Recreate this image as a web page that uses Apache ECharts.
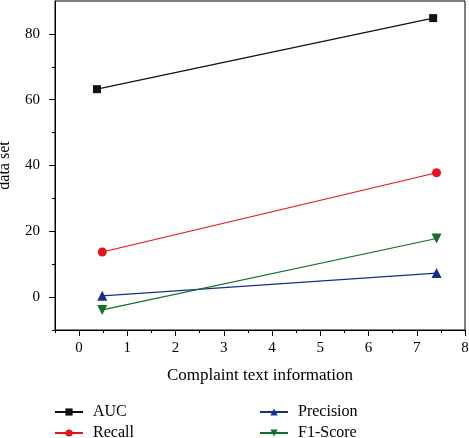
<!DOCTYPE html>
<html><head><meta charset="utf-8">
<script src="https://cdn.jsdelivr.net/npm/echarts@6/dist/echarts.min.js"></script>
<style>html,body{margin:0;padding:0;background:#fff}#c{width:469px;height:438px}</style>
</head><body><div id="c"></div>
<script>
const seriesNames = ['AUC', 'Recall', 'Precision', 'F1-Score'];
const aucData = [[0.37, 63.2], [7.34, 84.8]];
const recallData = [[0.48, 13.7], [7.41, 37.8]];
const precisionData = [[0.48, 0.4], [7.41, 7.3]];
const f1Data = [[0.48, -3.9], [7.41, 17.8]];
const xTickLabels = [0, 1, 2, 3, 4, 5, 6, 7, 8];
const xMinorTicks = [-0.5, 0.5, 1.5, 2.5, 3.5, 4.5, 5.5, 6.5, 7.5];
const yTickLabels = [0, 20, 40, 60, 80];
const yMinorTicks = [-10, 10, 30, 50, 70];

const FONT = '"Liberation Serif", "DejaVu Serif", serif';
const chart = echarts.init(document.getElementById('c'), null, {renderer: 'canvas'});
const common = {type: 'line', symbolSize: 9, lineStyle: {width: 1.2}};
const legendText = {fontFamily: FONT, fontSize: 16, color: '#000', padding: [0, 0, 0, 5]};
chart.setOption({
  animation: false,
  textStyle: {fontFamily: FONT},
  grid: {left: 55, right: 4, top: 1, bottom: 108, show: true, borderColor: '#000', borderWidth: 1,
    containLabel: false, outerBoundsMode: 'none'},
  xAxis: [{
    type: 'value', min: -0.5, max: 8, position: 'bottom',
    name: 'Complaint text information', nameLocation: 'middle', nameGap: 37,
    nameTextStyle: {fontFamily: FONT, fontSize: 17, color: '#000'},
    axisLine: {show: true, onZero: false, lineStyle: {color: '#000'}},
    axisTick: {show: true, customValues: xTickLabels, length: 6, lineStyle: {color: '#000'}},
    axisLabel: {customValues: xTickLabels, fontFamily: FONT, fontSize: 15, color: '#000', margin: 11},
    splitLine: {show: false}
  }, {
    type: 'value', min: -0.5, max: 8, position: 'bottom', gridIndex: 0,
    axisLine: {show: false, onZero: false},
    axisTick: {show: true, customValues: xMinorTicks, length: 3, lineStyle: {color: '#000'}},
    axisLabel: {show: false}, splitLine: {show: false}
  }],
  yAxis: [{
    type: 'value', min: -10, max: 90, position: 'left',
    name: 'data set', nameLocation: 'middle', nameGap: 42, nameRotate: 90, nameMoveOverlap: false,
    nameTextStyle: {fontFamily: FONT, fontSize: 16, color: '#000'},
    axisLine: {show: true, onZero: false, lineStyle: {color: '#000'}},
    axisTick: {show: true, customValues: yTickLabels, length: 6, lineStyle: {color: '#000'}},
    axisLabel: {customValues: yTickLabels, fontFamily: FONT, fontSize: 15, color: '#000', margin: 15},
    splitLine: {show: false}
  }, {
    type: 'value', min: -10, max: 90, position: 'left',
    axisLine: {show: false, onZero: false},
    axisTick: {show: true, customValues: yMinorTicks, length: 3, lineStyle: {color: '#000'}},
    axisLabel: {show: false}, splitLine: {show: false}
  }],
  legend: [{
    data: [seriesNames[0], seriesNames[1]], orient: 'vertical', left: 54, top: 404, height: 60,
    itemWidth: 28, itemHeight: 9, itemGap: 5, padding: 0, textStyle: legendText
  }, {
    data: [seriesNames[2], seriesNames[3]], orient: 'vertical', left: 259, top: 404, height: 60,
    itemWidth: 28, itemHeight: 9, itemGap: 5, padding: 0, textStyle: legendText
  }],
  series: [
    Object.assign({}, common, {name: seriesNames[0], data: aucData, symbol: 'rect', symbolSize: 8,
      itemStyle: {color: '#111'}, lineStyle: {color: '#111', width: 1.2}}),
    Object.assign({}, common, {name: seriesNames[1], data: recallData, symbol: 'circle', symbolSize: 9,
      itemStyle: {color: '#e8141c'}, lineStyle: {color: '#e8141c', width: 1.2}}),
    Object.assign({}, common, {name: seriesNames[2], data: precisionData, symbol: 'triangle', symbolSize: 10,
      itemStyle: {color: '#123089'}, lineStyle: {color: '#123089', width: 1.2}}),
    Object.assign({}, common, {name: seriesNames[3], data: f1Data, symbol: 'triangle', symbolRotate: 180, symbolSize: 10,
      itemStyle: {color: '#11702a'}, lineStyle: {color: '#11702a', width: 1.2}})
  ]
});
</script></body></html>
